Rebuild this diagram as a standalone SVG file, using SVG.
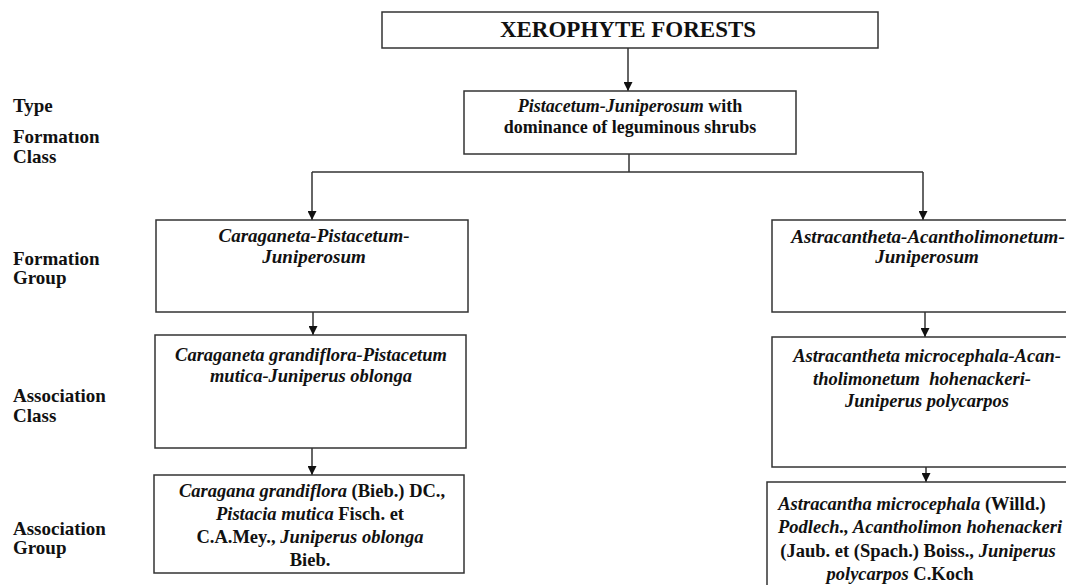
<svg xmlns="http://www.w3.org/2000/svg" width="1066" height="585" viewBox="0 0 1066 585">
<defs>
<marker id="arr" viewBox="0 0 10 10" refX="10" refY="5" markerWidth="9" markerHeight="9" markerUnits="userSpaceOnUse" orient="auto">
<path d="M0,0 L10,5 L0,10 z" fill="#111"/>
</marker>
<style>
.box{fill:#fff;stroke:#333;stroke-width:1.5}
.t{font-family:"Liberation Serif","Times New Roman",serif;font-weight:bold;font-size:18.5px;fill:#111;text-anchor:middle}
.lbl{font-family:"Liberation Serif","Times New Roman",serif;font-weight:bold;font-size:19px;fill:#111}
.i{font-style:italic}
.c{fill:none;stroke:#333;stroke-width:1.5}
</style>
</defs>
<rect width="1066" height="585" fill="#fff"/>

<g id="labels">
<text class="lbl" x="13" y="112">Type</text>
<text class="lbl" x="13" y="143">Formatıon</text>
<text class="lbl" x="13" y="163">Class</text>
<text class="lbl" x="13" y="265">Formation</text>
<text class="lbl" x="13" y="284">Group</text>
<text class="lbl" x="13" y="402">Association</text>
<text class="lbl" x="13" y="422">Class</text>
<text class="lbl" x="13" y="535">Association</text>
<text class="lbl" x="13" y="554">Group</text>
</g>

<g id="connectors">
<line class="c" x1="628" y1="48" x2="628" y2="91" marker-end="url(#arr)"/>
<polyline class="c" points="629,154 629,172"/>
<polyline class="c" points="312,172 923,172"/>
<line class="c" x1="312" y1="172" x2="312" y2="220" marker-end="url(#arr)"/>
<line class="c" x1="923" y1="172" x2="923" y2="220" marker-end="url(#arr)"/>
<line class="c" x1="313" y1="312" x2="313" y2="335" marker-end="url(#arr)"/>
<line class="c" x1="925" y1="312" x2="925" y2="337" marker-end="url(#arr)"/>
<line class="c" x1="312" y1="448" x2="312" y2="475" marker-end="url(#arr)"/>
<line class="c" x1="926" y1="467" x2="926" y2="482" marker-end="url(#arr)"/>
</g>

<g id="n-xerophyte">
<rect class="box" x="382" y="12" width="496" height="36"/>
<text class="t" x="628" y="37" style="font-size:23px">XEROPHYTE FORESTS</text>
</g>

<g id="n-type">
<rect class="box" x="464" y="91" width="332" height="63"/>
<text class="t" x="630" y="112" style="font-size:18px"><tspan class="i">Pistacetum-Juniperosum</tspan> with</text>
<text class="t" x="630" y="133" style="font-size:18px">dominance of leguminous shrubs</text>
</g>

<g id="n-fg-left">
<rect class="box" x="156" y="220" width="312" height="92"/>
<text class="t i" x="314" y="242" style="font-size:19px">Caraganeta-Pistacetum-</text>
<text class="t i" x="314" y="263" style="font-size:19px">Juniperosum</text>
</g>

<g id="n-fg-right">
<rect class="box" x="772" y="220" width="312" height="92"/>
<text class="t i" x="928" y="243" style="font-size:19px">Astracantheta-Acantholimonetum-</text>
<text class="t i" x="927" y="263" style="font-size:19px">Juniperosum</text>
</g>

<g id="n-ac-left">
<rect class="box" x="155" y="335" width="311" height="113"/>
<text class="t i" x="311" y="361">Caraganeta grandiflora-Pistacetum</text>
<text class="t i" x="311" y="382">mutica-Juniperus oblonga</text>
</g>

<g id="n-ac-right">
<rect class="box" x="772" y="337" width="312" height="130"/>
<text class="t i" x="927" y="362">Astracantheta microcephala-Acan-</text>
<text class="t i" x="922" y="385" xml:space="preserve">tholimonetum  hohenackeri-</text>
<text class="t i" x="927" y="407">Juniperus polycarpos</text>
</g>

<g id="n-ag-left">
<rect class="box" x="154" y="475" width="310" height="98"/>
<text class="t" x="312" y="497"><tspan class="i">Caragana grandiflora</tspan> (Bieb.) DC.,</text>
<text class="t" x="310" y="520"><tspan class="i">Pistacia mutica</tspan> Fisch. et</text>
<text class="t" x="310" y="543">C.A.Mey., <tspan class="i">Juniperus oblonga</tspan></text>
<text class="t" x="310" y="566">Bieb.</text>
</g>

<g id="n-ag-right">
<rect class="box" x="767" y="482" width="312" height="120"/>
<text class="t" x="912" y="510"><tspan class="i">Astracantha microcephala</tspan> (Willd.)</text>
<text class="t" x="920" y="533"><tspan class="i">Podlech., Acantholimon hohenackeri</tspan></text>
<text class="t" x="918" y="557">(Jaub. et (Spach.) Boiss., <tspan class="i">Juniperus</tspan></text>
<text class="t" x="900" y="580"><tspan class="i">polycarpos</tspan> C.Koch</text>
</g>
</svg>
